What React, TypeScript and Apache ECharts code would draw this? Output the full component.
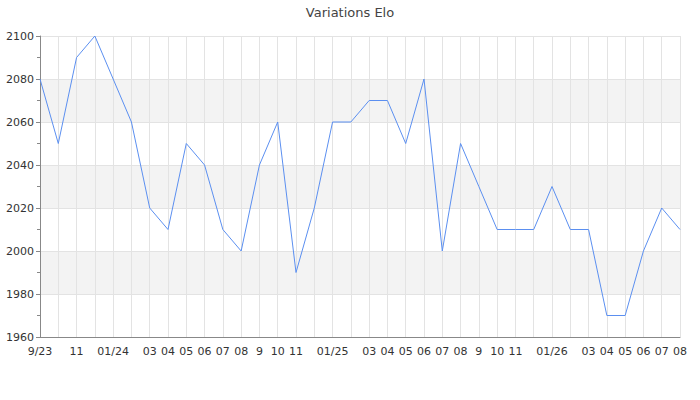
import React, { useEffect, useRef } from "react";
import * as echarts from "echarts";

const months = [
  "9/23", "10", "11", "12", "01/24", "02", "03", "04", "05", "06", "07", "08",
  "9", "10", "11", "12", "01/25", "02", "03", "04", "05", "06", "07", "08",
  "9", "10", "11", "12", "01/26", "02", "03", "04", "05", "06", "07", "08",
];

// indices of month labels that are not drawn
const hiddenLabels = [1, 3, 5, 15, 17, 27, 29];

const elo = [
  2080, 2050, 2090, 2100, 2080, 2060, 2020, 2010, 2050, 2040, 2010, 2000,
  2040, 2060, 1990, 2020, 2060, 2060, 2070, 2070, 2050, 2080, 2000, 2050,
  2030, 2010, 2010, 2010, 2030, 2010, 2010, 1970, 1970, 2000, 2020, 2010,
];

const yMin = 1960;
const yMax = 2100;
const yStep = 20;

const font = "DejaVu Sans";

const App: React.FC = () => {
  const chartRef = useRef<HTMLDivElement>(null);

  useEffect(() => {
    if (!chartRef.current) return;
    const chart = echarts.init(chartRef.current, null, { renderer: "svg" });

    const option = {
      animation: false,
      title: {
        text: "Variations Elo",
        left: "center",
        top: 1,
        textStyle: { fontFamily: font, fontSize: 13, fontWeight: "normal", color: "#444" },
      },
      grid: { left: 40, right: 20, top: 36, bottom: 63 },
      xAxis: {
        type: "category",
        data: months,
        boundaryGap: false,
        axisLine: { lineStyle: { color: "#888" } },
        axisTick: { show: false },
        axisLabel: {
          interval: (i: number) => !hiddenLabels.includes(i),
          fontFamily: font,
          fontSize: 11,
          color: "#333",
          margin: 9,
        },
        splitLine: { show: true, interval: 0, lineStyle: { color: "#e3e3e3" } },
      },
      yAxis: {
        type: "value",
        min: yMin,
        max: yMax,
        interval: yStep,
        axisLine: { show: true, lineStyle: { color: "#888" } },
        axisTick: { show: true, length: 4, lineStyle: { color: "#888" } },
        minorTick: { show: true, splitNumber: 2, length: 3, lineStyle: { color: "#888" } },
        axisLabel: {
          fontFamily: font,
          fontSize: 11,
          color: "#333",
          margin: 6,
          formatter: (v: number) => String(v),
        },
        splitLine: { lineStyle: { color: "#e3e3e3" } },
        splitArea: { show: true, areaStyle: { color: ["#ffffff", "#f3f3f3"] } },
      },
      series: [
        {
          type: "line",
          data: elo,
          showSymbol: false,
          lineStyle: { color: "#5b8ff0", width: 1 },
          itemStyle: { color: "#5b8ff0" },
        },
      ],
    };

    chart.setOption(option);

    const handleResize = () => chart.resize();
    window.addEventListener("resize", handleResize);
    return () => {
      window.removeEventListener("resize", handleResize);
      chart.dispose();
    };
  }, []);

  return (
    <div
      ref={chartRef}
      style={{ position: "absolute", left: 0, top: 0, width: "700px", height: "400px" }}
    />
  );
};

export default App;
